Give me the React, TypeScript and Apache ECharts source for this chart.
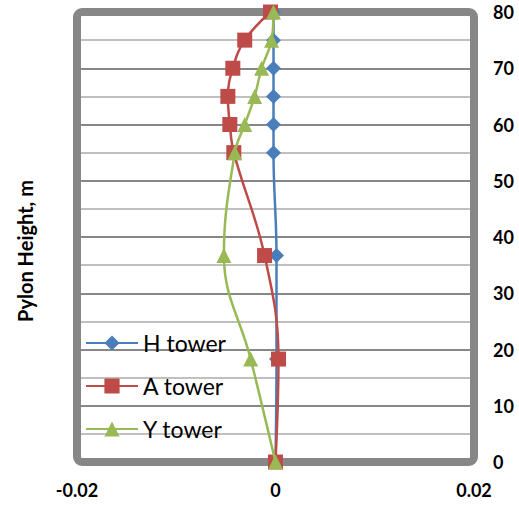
import React, { useEffect, useRef } from "react";
import * as echarts from "echarts";

const heights = [0, 18.3, 36.7, 55, 60, 65, 70, 75, 80];
const hTower = [0, 0.0001, 0.0001, -0.0002, -0.0002, -0.0002, -0.0002, -0.0002, -0.0002];
const aTower = [0, 0.0003, -0.0011, -0.0042, -0.0046, -0.0048, -0.0043, -0.0031, -0.0005];
const yTower = [0, -0.0025, -0.0052, -0.0041, -0.0031, -0.0021, -0.0014, -0.0004, -0.0002];
const seriesNames = ["H tower", "A tower", "Y tower"];
const colors = ["#4A7EBB", "#BE4B48", "#98B954"];
const symbols = ["diamond", "rect", "triangle"];

const W = 519;
const H = 506;
const G = { left: 77, right: 45, top: 12, bottom: 44 };

export default function App() {
  const ref = useRef<HTMLDivElement>(null);
  useEffect(() => {
    if (!ref.current) return;
    const chart = echarts.init(ref.current, null, { renderer: "svg" });
    const all = [hTower, aTower, yTower];
    const font = "Lato";
    chart.setOption({
      animation: false,
      backgroundColor: "#ffffff",
      grid: { left: G.left, right: G.right, top: G.top, bottom: G.bottom },
      xAxis: {
        type: "value",
        min: -0.02,
        max: 0.02,
        interval: 0.02,
        axisLine: { show: false },
        axisTick: { show: false },
        splitLine: { show: false },
        axisLabel: { fontFamily: font, fontWeight: "bold", fontSize: 18, color: "#000", margin: 19 },
      },
      yAxis: {
        type: "value",
        position: "right",
        min: 0,
        max: 80,
        interval: 10,
        axisLine: { show: false },
        axisTick: { show: false },
        minorTick: { show: false, splitNumber: 2 },
        splitLine: { show: true, lineStyle: { color: "#878787", width: 2 } },
        minorSplitLine: { show: true, lineStyle: { color: "#C0C0C0", width: 2 } },
        axisLabel: { fontFamily: font, fontWeight: "bold", fontSize: 18, color: "#000", margin: 19 },
      },
      legend: {
        orient: "vertical",
        left: 85,
        top: 331,
        padding: 0,
        itemWidth: 52,
        itemHeight: 19,
        itemGap: 19,
        textStyle: { fontFamily: font, fontSize: 23, color: "#000", lineHeight: 24 },
        data: seriesNames,
      },
      graphic: [
        {
          type: "rect",
          shape: { x: G.left, y: G.top, width: W - G.left - G.right, height: H - G.top - G.bottom, r: 5 },
          style: { fill: "none", stroke: "#878787", lineWidth: 8 },
          z: 1,
        },
        {
          type: "text",
          x: 25,
          y: 251,
          rotation: Math.PI / 2,
          style: {
            text: "Pylon Height, m",
            font: `bold 20px ${font}`,
            fill: "#000",
            align: "center",
            verticalAlign: "middle",
          },
        },
      ],
      series: seriesNames.map((name, i) => ({
        name,
        type: "line",
        smooth: 0.4,
        symbol: symbols[i],
        symbolSize: 15,
        color: colors[i],
        lineStyle: { color: colors[i], width: 2.5 },
        itemStyle: { color: colors[i] },
        data: heights.map((h, k) => [all[i][k], h]),
        z: 3 + i,
      })),
    });
    return () => chart.dispose();
  }, []);
  return <div ref={ref} style={{ position: "absolute", left: 0, top: 0, width: W, height: H }} />;
}
